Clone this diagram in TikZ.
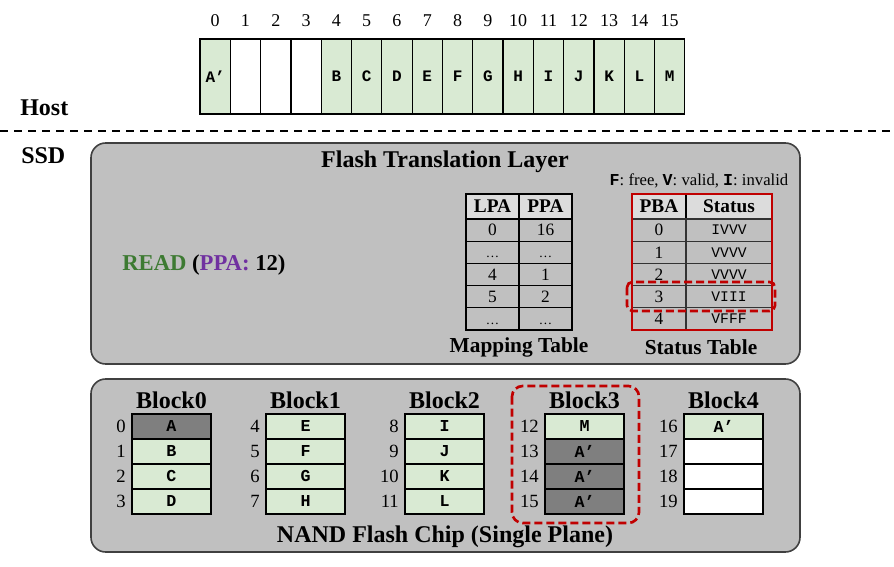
\documentclass[tikz,border=0pt]{standalone}
\usepackage{fontspec}
\setmainfont{Liberation Serif}
\setmonofont{Liberation Mono}
\definecolor{cellgreen}{HTML}{D9EAD3}
\definecolor{celldark}{HTML}{7F7F7F}
\definecolor{boxgray}{HTML}{C0C0C0}
\definecolor{boxedge}{HTML}{404040}
\definecolor{hred}{HTML}{C00000}
\definecolor{rgreen}{HTML}{3D7A32}
\definecolor{rpurple}{HTML}{7030A0}
\definecolor{hdrgray}{HTML}{DCDCDC}
\newcommand\mydots{{\fontsize{10}{12}\selectfont\ldots}}
\tikzset{
  title/.style={font=\fontsize{18}{20}\selectfont\bfseries, inner sep=0pt},
  subtitle/.style={font=\fontsize{16}{18}\selectfont\bfseries, inner sep=0pt},
  num/.style={font=\fontsize{13}{15}\selectfont, inner sep=0pt},
  hostcell/.style={draw=black, line width=0.9pt, minimum width=22.725pt, minimum height=56.25pt, inner sep=0pt, outer sep=0pt, font=\fontsize{12}{14}\selectfont\ttfamily\bfseries},
  blkcell/.style={draw=black, line width=1.2pt, minimum width=59.25pt, minimum height=18.75pt, inner sep=0pt, outer sep=0pt, font=\fontsize{12.5}{14}\selectfont\ttfamily\bfseries},
  mtcell/.style={draw=black, line width=1pt, minimum width=39.75pt, minimum height=16.65pt, inner sep=0pt, outer sep=0pt, font=\fontsize{13}{15}\selectfont},
  mthdr/.style={mtcell, minimum height=18.75pt, fill=hdrgray, font=\fontsize{14.5}{16}\selectfont\bfseries},
  bigbox/.style={draw=boxedge, line width=1.2pt, fill=boxgray, rounded corners=11pt},
  redbox/.style={draw=hred, line width=2pt, dash pattern=on 6pt off 3pt, rounded corners=#1},
}
\begin{document}
\begin{tikzpicture}[x=0.75pt,y=-0.75pt]
\useasboundingbox (0,0) rectangle (894,567);
\fill[white] (0,0) rectangle (894,567);
% Host array
\foreach \i/\t/\c in {0/A’/cellgreen,1//white,2//white,3//white,4/B/cellgreen,5/C/cellgreen,6/D/cellgreen,7/E/cellgreen,8/F/cellgreen,9/G/cellgreen,10/H/cellgreen,11/I/cellgreen,12/J/cellgreen,13/K/cellgreen,14/L/cellgreen,15/M/cellgreen}{
  \node[hostcell, fill=\c] (h\i) at ({215.15+30.3*\i},76.5) {\t};
  \node[num, font=\fontsize{13.5}{15}\selectfont] (hn\i) at ({215.15+30.3*\i},21) {\i};
}
\node[title, anchor=west] (host) at (20,108) {Host};
\coordinate (dl) at (0,131);
\coordinate (dr) at (894,131);
\draw[line width=1.6pt, dash pattern=on 6pt off 4.5pt] (dl) -- (dr);
\node[title, anchor=west] (ssd) at (21,156) {SSD};
% FTL box
\draw[bigbox] (91,143) rectangle (800,364);
\node[title] (ftl) at (445,162) {Flash Translation Layer};
\node[inner sep=0pt, font=\fontsize{12.5}{14}\selectfont] (legend) at (699,181) {{\ttfamily\bfseries F}: free, {\ttfamily\bfseries V}: valid, {\ttfamily\bfseries I}: invalid};
\node[inner sep=0pt, anchor=west, font=\fontsize{17}{19}\selectfont\bfseries] (read) at (122,265) {\textcolor{rgreen}{READ} (\textcolor{rpurple}{PPA:} 12)};
% Mapping table
\node[mthdr] (lpa) at (492.5,206.5) {LPA};
\node[mthdr] (ppa) at (545.5,206.5) {PPA};
\foreach \r/\a/\b in {0/0/16,1/\mydots/\mydots,2/4/1,3/5/2,4/\mydots/\mydots}{
  \node[mtcell] (ml\r) at (492.5,{230.1+22.2*\r}) {\vphantom{0}\a};
  \node[mtcell] (mp\r) at (545.5,{230.1+22.2*\r}) {\vphantom{0}\b};
}
\draw[line width=1.8pt] (466,194) rectangle (572,330);
\node[subtitle] (mtl) at (519,347) {Mapping Table};
% Status table
\node[mthdr, minimum width=40.5pt] (pba) at (659,206.5) {PBA};
\node[mthdr, minimum width=64.5pt] (sts) at (729,206.5) {Status};
\foreach \r/\s in {0/IVVV,1/VVVV,2/VVVV,3/VIII,4/VFFF}{
  \node[mtcell, draw=black!80, minimum width=40.5pt] (sp\r) at (659,{230.1+22.2*\r}) {\r};
  \node[mtcell, draw=black!80, minimum width=64.5pt, font=\fontsize{11}{12}\selectfont\ttfamily] (ss\r) at (729,{230.1+22.2*\r}) {\s};
}
\draw[hred, line width=1.8pt] (632,194) rectangle (772,330);
\draw[redbox=4pt] (627,282) rectangle (775,311);
\node[subtitle] (stl) at (701,347) {Status Table};
% NAND box
\draw[bigbox] (91,379) rectangle (800,552);
\node[title] (nand) at (445,537) {NAND Flash Chip (Single Plane)};
\foreach \b/\L in {0/132,1/266,2/405,3/545,4/684}{
  \node[title] (bt\b) at ({\L+39.5},400) {Block\b};
}
% cells
\foreach \b/\L/\p/\ta/\ca/\tb/\cb/\tc/\cc/\td/\cd in {
  0/132/0/A/celldark/B/cellgreen/C/cellgreen/D/cellgreen,
  1/266/4/E/cellgreen/F/cellgreen/G/cellgreen/H/cellgreen,
  2/405/8/I/cellgreen/J/cellgreen/K/cellgreen/L/cellgreen,
  3/545/12/M/cellgreen/A’/celldark/A’/celldark/A’/celldark,
  4/684/16/A’/cellgreen//white//white//white}{
  \node[blkcell, fill=\ca] (c\b a) at ({\L+39.5},426.5) {\ta};
  \node[blkcell, fill=\cb] (c\b b) at ({\L+39.5},451.5) {\tb};
  \node[blkcell, fill=\cc] (c\b c) at ({\L+39.5},476.5) {\tc};
  \node[blkcell, fill=\cd] (c\b d) at ({\L+39.5},501.5) {\td};
  \pgfmathtruncatemacro{\pa}{\p}
  \pgfmathtruncatemacro{\pb}{\p+1}
  \pgfmathtruncatemacro{\pc}{\p+2}
  \pgfmathtruncatemacro{\pd}{\p+3}
  \node[num, anchor=east, font=\fontsize{14}{16}\selectfont] (n\b a) at ({\L-6},426.5) {\pa};
  \node[num, anchor=east, font=\fontsize{14}{16}\selectfont] (n\b b) at ({\L-6},451.5) {\pb};
  \node[num, anchor=east, font=\fontsize{14}{16}\selectfont] (n\b c) at ({\L-6},476.5) {\pc};
  \node[num, anchor=east, font=\fontsize{14}{16}\selectfont] (n\b d) at ({\L-6},501.5) {\pd};
}
\draw[redbox=8pt] (512,386) rectangle (639,523);
\end{tikzpicture}
\end{document}
